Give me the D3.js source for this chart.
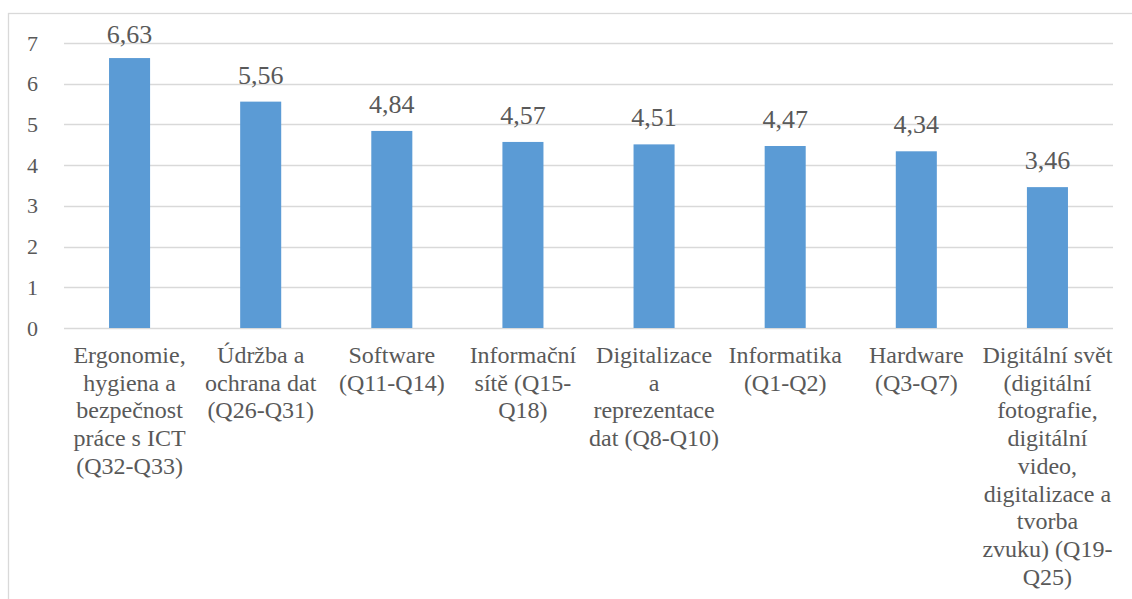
<!DOCTYPE html>
<html>
<head>
<meta charset="utf-8">
<script src="https://cdn.jsdelivr.net/npm/d3@7"></script>
</head>
<body style="margin:0; background:#fff;">
<div class="chart"></div>
<script>
// categories (line breaks as in the original wrapped labels)
let categories = [
  "Ergonomie,\nhygiena a\nbezpečnost\npráce s ICT\n(Q32-Q33)",
  "Údržba a\nochrana dat\n(Q26-Q31)",
  "Software\n(Q11-Q14)",
  "Informační\nsítě (Q15-\nQ18)",
  "Digitalizace\na\nreprezentace\ndat (Q8-Q10)",
  "Informatika\n(Q1-Q2)",
  "Hardware\n(Q3-Q7)",
  "Digitální svět\n(digitální\nfotografie,\ndigitální\nvideo,\ndigitalizace a\ntvorba\nzvuku) (Q19-\nQ25)"
];
let values = [6.63, 5.56, 4.84, 4.57, 4.51, 4.47, 4.34, 3.46];
let valueLabels = ["6,63", "5,56", "4,84", "4,57", "4,51", "4,47", "4,34", "3,46"];
let yTicks = [0, 1, 2, 3, 4, 5, 6, 7];

let width = 1132;
let height = 599;
let margin = { top: 43, left: 64, right: 19, bottom: 271 };
let serifFont = '"Liberation Serif"';
let textColor = '#595959';

let svg = d3.select('.chart')
  .append('svg')
  .attr('width', width)
  .attr('height', height)
  .style('display', 'block');

// outer chart frame (only left and top edges visible)
svg.append('rect')
  .attr('x', 8.5)
  .attr('y', 13.5)
  .attr('width', width + 10)
  .attr('height', height + 10)
  .attr('fill', 'none')
  .attr('stroke', '#d9d9d9')
  .attr('stroke-width', 1.3);

let xScale = d3.scaleBand()
  .range([margin.left, width - margin.right])
  .padding(0)
  .domain(d3.range(categories.length));

let yScale = d3.scaleLinear()
  .range([height - margin.bottom, margin.top])
  .domain([0, 7]);

// gridlines
svg.append('g')
  .selectAll('line')
  .data(yTicks)
  .enter().append('line')
  .attr('x1', margin.left)
  .attr('x2', width - margin.right)
  .attr('y1', function(d) { return Math.round(yScale(d)) + 0.5; })
  .attr('y2', function(d) { return Math.round(yScale(d)) + 0.5; })
  .attr('stroke', '#d9d9d9')
  .attr('stroke-width', 1.3);

// y axis labels
let yAxis = svg.append('g')
  .attr('transform', 'translate(' + margin.left + ', 0)')
  .call(d3.axisLeft(yScale).tickValues(yTicks).tickFormat(d3.format('d')).tickSize(0).tickPadding(26));
yAxis.select('.domain').remove();
yAxis.attr('font-family', null).attr('font-size', null);
yAxis.selectAll('text')
  .attr('fill', textColor)
  .attr('font-size', 22)
  .style('font-family', serifFont);

let barW = xScale.bandwidth() * 0.313;

svg.selectAll('.bar')
  .data(values)
  .enter().append('rect')
  .attr('class', 'bar')
  .attr('x', function(d, i) { return xScale(i) + (xScale.bandwidth() - barW) / 2; })
  .attr('y', function(d) { return yScale(d); })
  .attr('width', barW)
  .attr('height', function(d) { return yScale(0) - yScale(d); })
  .attr('fill', '#5b9bd5');

// value labels, kept inside the plot area
svg.selectAll('.val')
  .data(values)
  .enter().append('text')
  .attr('class', 'val')
  .attr('x', function(d, i) { return xScale(i) + xScale.bandwidth() / 2; })
  .attr('y', function(d) { return Math.max(yScale(d) - 18, margin.top); })
  .attr('text-anchor', 'middle')
  .attr('font-size', 26)
  .attr('fill', textColor)
  .style('font-family', serifFont)
  .text(function(d, i) { return valueLabels[i]; });

// category labels
let cat = svg.selectAll('.cat')
  .data(categories)
  .enter().append('text')
  .attr('class', 'cat')
  .attr('text-anchor', 'middle')
  .attr('font-size', 24)
  .attr('fill', textColor)
  .style('font-family', serifFont)
  .attr('transform', function(d, i) {
    return 'translate(' + (xScale(i) + xScale.bandwidth() / 2) + ',' + (yScale(0) + 35) + ')';
  });

cat.selectAll('tspan')
  .data(function(d) { return d.split('\n'); })
  .enter().append('tspan')
  .attr('x', 0)
  .attr('y', function(d, i) { return i * 27.7; })
  .text(function(d) { return d; });
</script>
</body>
</html>
